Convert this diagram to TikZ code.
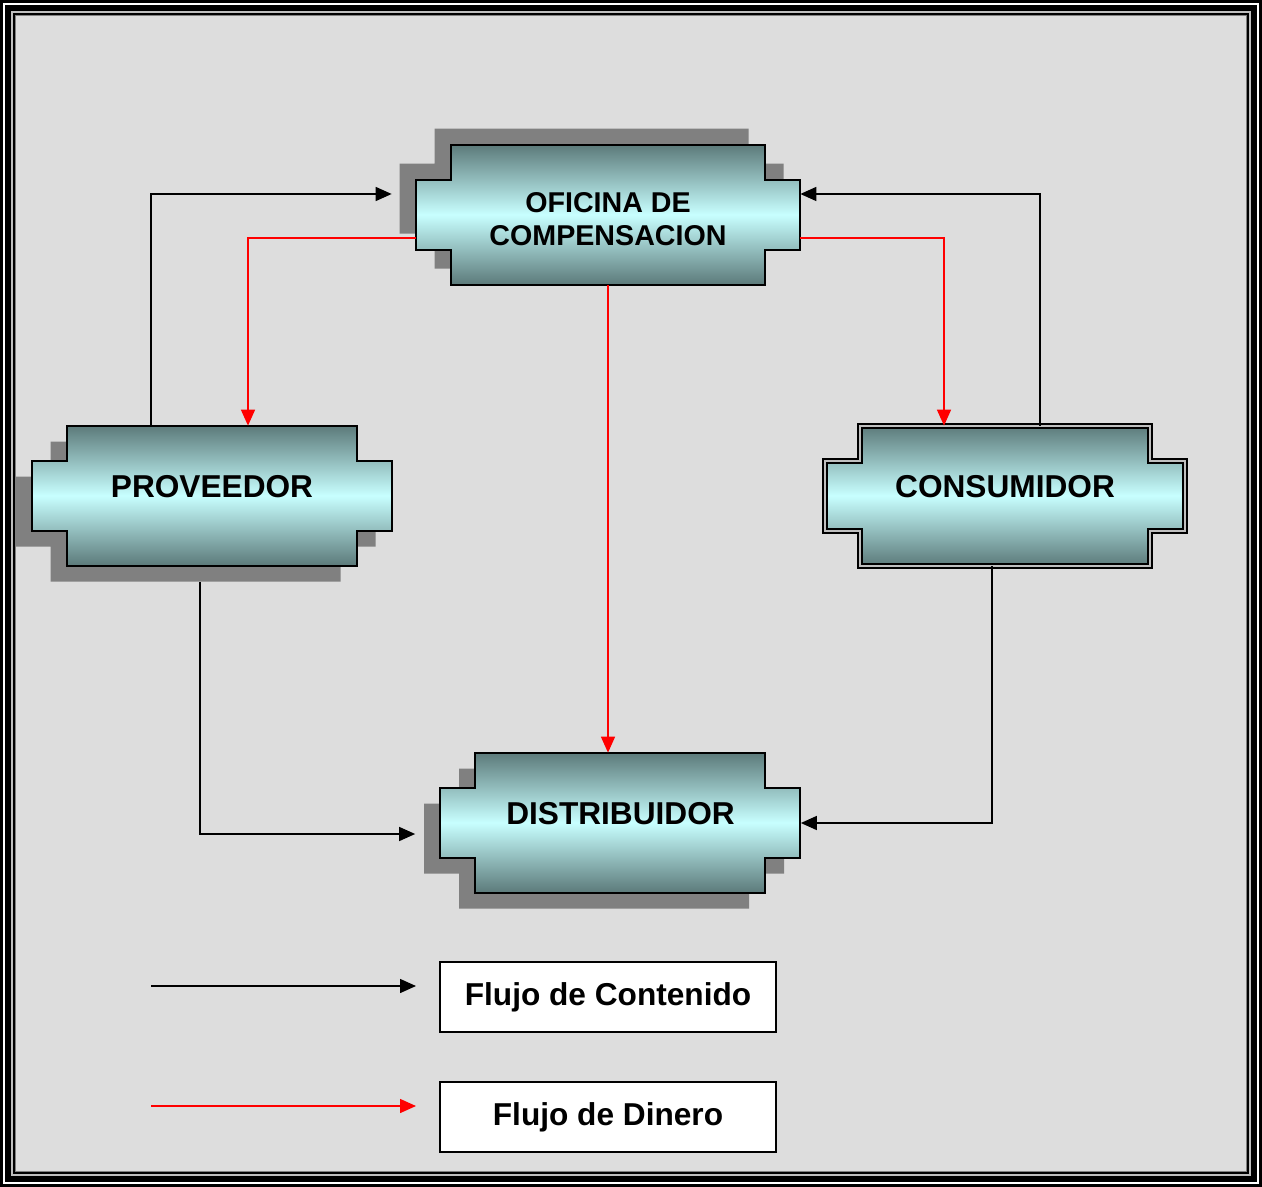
\documentclass[tikz,border=0pt]{standalone}
\usepackage{fontspec}
\setmainfont{Liberation Sans}
\usetikzlibrary{arrows.meta,backgrounds}
\definecolor{panel}{HTML}{DDDDDD}
\definecolor{darkteal}{RGB}{92,122,122}
\definecolor{paleteal}{RGB}{200,255,255}
\definecolor{shadowgray}{HTML}{808080}
\newcommand{\plaquepath}[1]{++(0.7,0) -- ++(#1,0) -- ++(0,-0.7) -- ++(0.7,0) -- ++(0,-1.4) -- ++(-0.7,0) -- ++(0,-0.7) -- ++(-#1,0) -- ++(0,0.7) -- ++(-0.7,0) -- ++(0,1.4) -- ++(0.7,0) -- cycle}

\begin{document}
\begin{tikzpicture}[
>={Triangle[length=0.32cm,width=0.28cm]},
plaque/.style={minimum width=7.2cm,minimum height=2.8cm,inner sep=0pt,align=center,font=\fontsize{18}{21}\selectfont\bfseries,text depth=0.4cm},
legend/.style={rectangle,draw,fill=white,line width=0.03cm,minimum width=6.72cm,minimum height=1.4cm,inner sep=0pt,font=\fontsize{18}{21}\selectfont\bfseries},
content/.style={draw,line width=0.03cm,->},
money/.style={draw=red,line width=0.03cm,->},
tint/.style={top color=darkteal,bottom color=darkteal,middle color=paleteal,draw=black,line width=0.04cm},
dropshade/.style={fill=shadowgray}]
\useasboundingbox (0,0) rectangle (25.24,-23.74);
\begin{scope}[on background layer]
\fill[white] (0,0) rectangle (25.24,-23.74);
\draw[line width=0.06cm] (0.03,-0.03) rectangle (25.21,-23.71);
\draw[line width=0.12cm] (0.16,-0.16) rectangle (25.08,-23.58);
\fill[black!25] (0.22,-0.22) rectangle (25.02,-23.52);
\filldraw[fill=panel,line width=0.04cm] (0.28,-0.28) rectangle (24.96,-23.46);
\draw[black!50,line width=0.02cm] (0.31,-0.31) rectangle (24.93,-23.43);
\end{scope}

\node[plaque,minimum width=7.68cm,font=\fontsize{16.3}{18.8}\selectfont\bfseries,text depth={},text height=1.21cm] (ofi) at (12.16,-4.30) {OFICINA DE\\COMPENSACION};
\node[plaque] (prov) at (4.24,-9.92) {PROVEEDOR};
\node[plaque] (cons) at (20.1,-9.92) {CONSUMIDOR};
\node[plaque] (dist) at (12.41,-16.46) {DISTRIBUIDOR};
\node[legend] (lcont) at (12.16,-19.94) {Flujo de Contenido};
\node[legend] (ldin) at (12.16,-22.34) {Flujo de Dinero};

\begin{scope}[on background layer]
\fill[dropshade] ([xshift=-0.32cm,yshift=0.32cm]ofi.north west) \plaquepath{6.28};
\shadedraw[tint] (ofi.north west) \plaquepath{6.28};
\fill[dropshade] ([xshift=-0.32cm,yshift=-0.32cm]prov.north west) \plaquepath{5.8};
\shadedraw[tint] (prov.north west) \plaquepath{5.8};
\fill[dropshade] ([xshift=-0.32cm,yshift=-0.32cm]dist.north west) \plaquepath{5.8};
\shadedraw[tint] (dist.north west) \plaquepath{5.8};
\shadedraw[tint,double=black!25,double distance=0.04cm,line width=0.04cm] (cons.north west) \plaquepath{5.8};
\end{scope}

\draw[content] ([xshift=-1.22cm]prov.north) |- ([xshift=-0.48cm,yshift=0.42cm]ofi.west);
\draw[content] ([xshift=0.7cm]cons.north) |- ([yshift=0.42cm]ofi.east);
\draw[money] ([yshift=-0.46cm]ofi.west) -| ([xshift=0.72cm]prov.north);
\draw[money] ([yshift=-0.46cm]ofi.east) -| ([xshift=-1.22cm]cons.north);
\draw[money] (ofi.south) -- (ofi.south |- dist.north);
\draw[content] ([xshift=-0.24cm,yshift=-0.32cm]prov.south) |- ([xshift=-0.5cm,yshift=-0.22cm]dist.west);
\draw[content] ([xshift=-0.26cm]cons.south) |- (dist.east);

\coordinate (k1) at (3.02,-19.72);
\coordinate (k2) at (8.32,-19.72);
\coordinate (r1) at (3.02,-22.12);
\coordinate (r2) at (8.32,-22.12);
\draw[content] (k1) -- (k2);
\draw[money] (r1) -- (r2);
\end{tikzpicture}
\end{document}
